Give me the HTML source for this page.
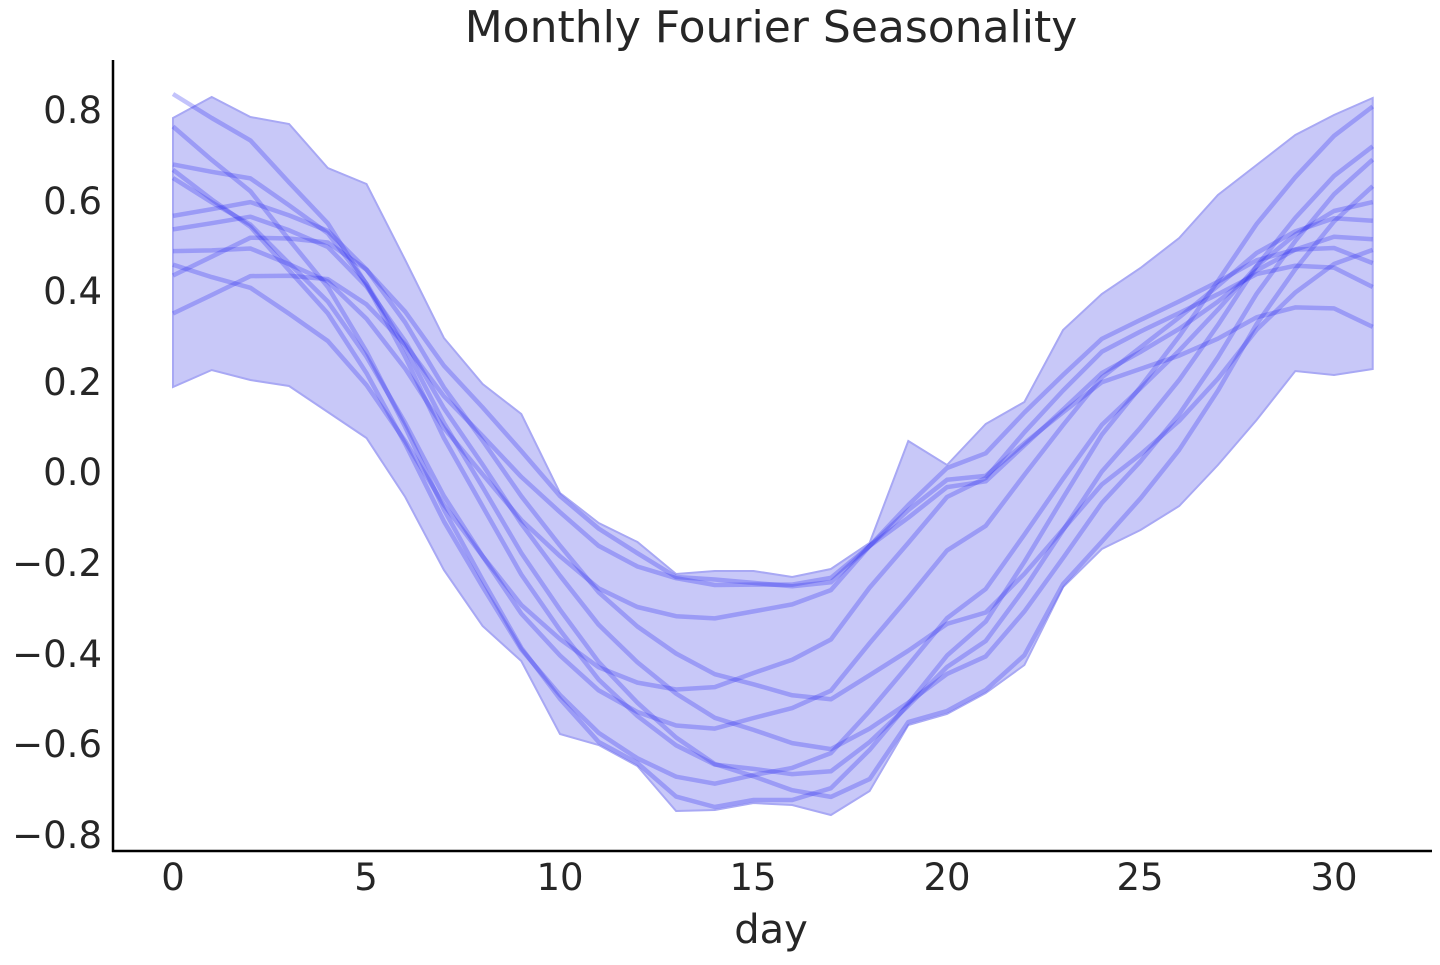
<!DOCTYPE html>
<html><head><meta charset="utf-8"><style>
html,body{margin:0;padding:0;background:#fff;}
svg text{font-family:"DejaVu Sans","Liberation Sans",sans-serif;fill:#262626;}
</style></head><body>
<svg id="s" width="1440" height="960" xmlns="http://www.w3.org/2000/svg">
<text x="771" y="42" font-size="44" text-anchor="middle">Monthly Fourier Seasonality</text>
<g font-size="37" text-anchor="end">
<text x="102" y="123">0.8</text>
<text x="102" y="214">0.6</text>
<text x="102" y="304">0.4</text>
<text x="102" y="395">0.2</text>
<text x="102" y="485">0.0</text>
<text x="102" y="576">−0.2</text>
<text x="102" y="667">−0.4</text>
<text x="102" y="757">−0.6</text>
<text x="102" y="848">−0.8</text>
</g>
<g font-size="37" text-anchor="middle">
<text x="173" y="890">0</text>
<text x="366" y="890">5</text>
<text x="560" y="890">10</text>
<text x="753" y="890">15</text>
<text x="947" y="890">20</text>
<text x="1140" y="890">25</text>
<text x="1334" y="890">30</text>
<text x="771" y="943" font-size="40">day</text>
</g>
<g id="plot"></g>
<line x1="113" y1="60" x2="113" y2="852" stroke="#000" stroke-width="2.5"/>
<line x1="112" y1="851" x2="1432" y2="851" stroke="#000" stroke-width="2.5"/>
</svg>
<script>
var X=function(d){return 173+d*38.7;};
var up=[118,97,117,124,168,184,260,338,384,414,493,523,542,574,571,571,577,569,543,441,465,424,402,330,294,268,238,195,165,135,115,98];
var lo=[387,370,380,386,412,438,497,570,626,661,734,745,766,811,810,803,805,815,791,725,714,693,665,587,549,530,506,465,420,371,375,369];
var p="";for(var i=0;i<32;i++)p+=X(i)+","+up[i]+" ";for(var i=31;i>=0;i--)p+=X(i)+","+lo[i]+" ";
function sm(a){var r=[];for(var i=0;i<a.length;i++){var s=0,n=0;for(var k=-1;k<=1;k++){if(a[i+k]!==undefined){s+=a[i+k];n++;}}r.push(s/n);}return r;}
var us=sm(up),ls=sm(lo);
var g=document.getElementById("plot");
var h='<polygon points="'+p+'" fill="#c8c8f8" stroke="#a8a8f4" stroke-width="2"/>';
var L=[[-0.05,0.85,0.15,-0.05],[0.07,0.98,0.0,0.1],[0.21,0.9,0.3,-0.25],[0.23,0.85,0.36,0.2],[0.26,0.6,0.43,0.25],[0.4,0.5,0.54,-0.2],[0.53,0.15,0.59,0.15],[0.58,0.4,0.68,0.3],[0.62,0.05,0.5,-0.1],[0.76,0.05,0.83,0.0],[0.45,0.7,0.2,-0.3]];
L.forEach(function(l){var q="";for(var d=0;d<32;d++){var b=l[0]+(l[2]-l[0])*d/31;var f=b+(l[1]-(l[0]+l[2])/2)*Math.sin(Math.PI*d/31)+l[3]*Math.sin(2*Math.PI*d/31);
var y=us[d]+(ls[d]-us[d])*f; if(d>0){y=Math.max(up[d]+3,Math.min(lo[d]-3,y));}
q+=X(d)+","+y.toFixed(1)+" ";}
h+='<polyline points="'+q+'" fill="none" stroke="rgba(40,40,240,0.28)" stroke-width="4.5" stroke-linejoin="round"/>';});
g.innerHTML=h;
</script>
</body></html>
